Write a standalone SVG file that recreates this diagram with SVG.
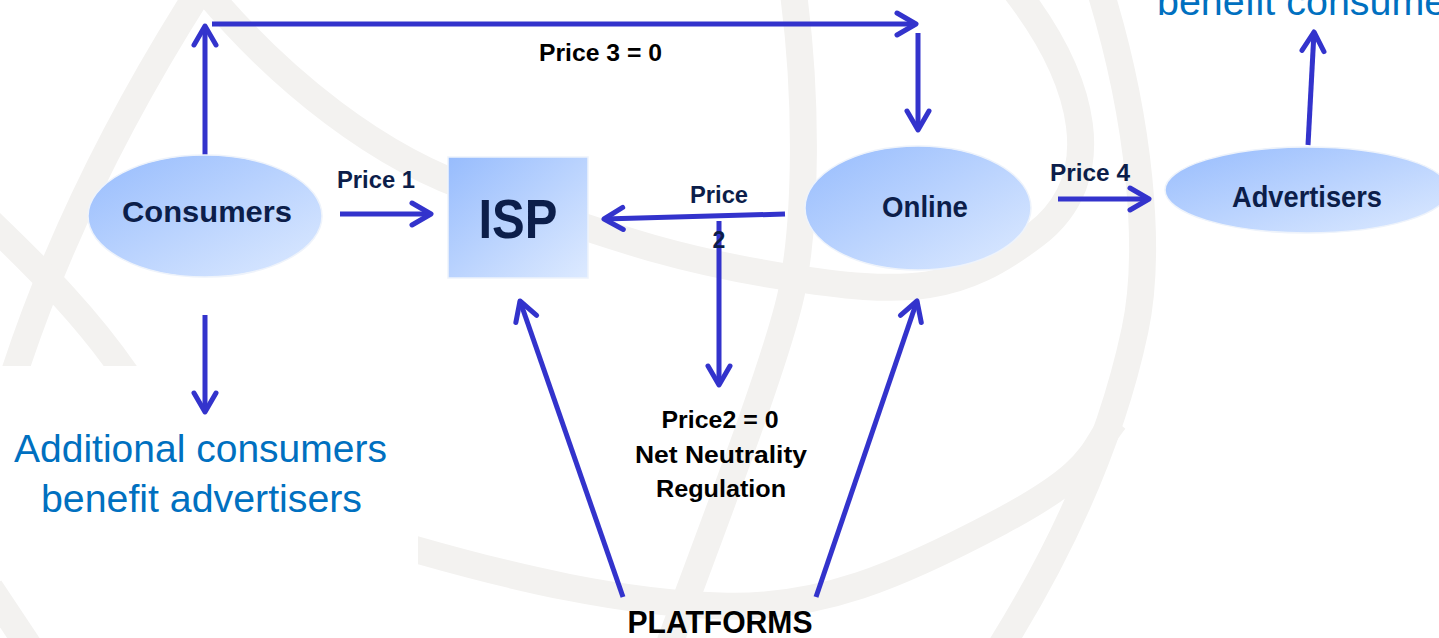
<svg xmlns="http://www.w3.org/2000/svg" width="1439" height="638" viewBox="0 0 1439 638">
  <defs>
    <linearGradient id="nodeGrad" x1="0" y1="0" x2="1" y2="1">
      <stop offset="0" stop-color="#97BCFD"/>
      <stop offset="1" stop-color="#DDEAFF"/>
    </linearGradient>
    <marker id="arrow" markerUnits="userSpaceOnUse" viewBox="-24 -16 28 32" refX="0" refY="0" markerWidth="28" markerHeight="32" orient="auto">
      <path d="M-19,-11 L0,0 L-19,11" fill="none" stroke="#3333CC" stroke-width="5" stroke-linecap="round" stroke-linejoin="round"/>
    </marker>
    <clipPath id="leftClip">
      <rect x="0" y="0" width="300" height="366"/>
    </clipPath>
    <clipPath id="bottomClip">
      <rect x="418" y="0" width="1021" height="638"/>
    </clipPath>
    <style>
      .wm { fill: none; stroke: #F3F2F0; stroke-width: 27; }
      .node { fill: url(#nodeGrad); stroke: #EEF3FB; stroke-width: 1.5; }
      .lbl { font-family: "Liberation Sans", Arial, sans-serif; font-weight: bold; fill: #0C1E4A; }
      .blk { font-family: "Liberation Sans", Arial, sans-serif; font-weight: bold; fill: #000000; }
      .blue { font-family: "Liberation Sans", Arial, sans-serif; fill: #0070C0; }
      .conn { fill: none; stroke: #3333CC; stroke-width: 5; marker-end: url(#arrow); }
    </style>
  </defs>

  <rect x="0" y="0" width="1439" height="638" fill="#FFFFFF"/>

  <g id="watermark">
    <g clip-path="url(#leftClip)">
      <path class="wm" d="M 200,-10 C 130,100 60,230 12,380"/>
      <path class="wm" d="M -10,222 C 40,270 90,320 130,380"/>
    </g>
    <path class="wm" d="M 205,-10 C 280,80 380,160 480,192 S 650,255 780,276 S 960,292 1035,235 S 1085,80 1015,-10"/>
    <path class="wm" d="M 1100,-10 C 1140,120 1152,250 1135,330 S 1080,520 1000,648"/>
    <path class="wm" d="M 793,-10 C 808,100 806,220 792,290 S 700,560 668,648"/>
    <g clip-path="url(#bottomClip)">
      <path class="wm" d="M 400,545 C 520,580 620,602 720,606 S 900,575 1000,522 S 1090,450 1115,420"/>
    </g>
    <path class="wm" d="M -10,588 L 30,648"/>
  </g>

  <g id="connectors">
    <line class="conn" x1="205" y1="155" x2="205" y2="26"/>
    <line class="conn" x1="212" y1="24" x2="916" y2="24"/>
    <line class="conn" x1="918" y1="33" x2="918" y2="130"/>
    <line class="conn" x1="340" y1="214" x2="431" y2="214"/>
    <line class="conn" x1="785" y1="214" x2="604" y2="219"/>
    <line class="conn" x1="719" y1="221" x2="719" y2="385"/>
    <line class="conn" x1="205" y1="315" x2="205" y2="412"/>
    <line class="conn" x1="623" y1="597" x2="520" y2="301"/>
    <line class="conn" x1="816" y1="597" x2="917" y2="301"/>
    <line class="conn" x1="1058" y1="199" x2="1149" y2="199"/>
    <line class="conn" x1="1308" y1="145" x2="1314" y2="32"/>
  </g>

  <g id="node-consumers">
    <ellipse class="node" cx="205" cy="216" rx="117" ry="61"/>
    <text class="lbl" x="207" y="222" font-size="30" text-anchor="middle" textLength="170" lengthAdjust="spacingAndGlyphs">Consumers</text>
  </g>

  <g id="node-isp">
    <rect class="node" x="448" y="157" width="140" height="121"/>
    <text class="lbl" x="518" y="238" font-size="56" text-anchor="middle" textLength="79" lengthAdjust="spacingAndGlyphs">ISP</text>
  </g>

  <g id="node-online">
    <ellipse class="node" cx="918" cy="208" rx="113" ry="62"/>
    <text class="lbl" x="925" y="217" font-size="29" text-anchor="middle" textLength="86" lengthAdjust="spacingAndGlyphs">Online</text>
  </g>

  <g id="node-advertisers">
    <ellipse class="node" cx="1307" cy="190" rx="142" ry="43"/>
    <text class="lbl" x="1307" y="207" font-size="29" text-anchor="middle" textLength="150" lengthAdjust="spacingAndGlyphs">Advertisers</text>
  </g>

  <g id="node-platforms">
    <text class="blk" x="720" y="633" font-size="31" text-anchor="middle" textLength="185" lengthAdjust="spacingAndGlyphs">PLATFORMS</text>
  </g>

  <g id="labels">
    <text class="lbl" x="337" y="188" font-size="23" textLength="78" lengthAdjust="spacingAndGlyphs">Price 1</text>
    <text class="blk" x="539" y="61" font-size="24" textLength="123" lengthAdjust="spacingAndGlyphs">Price 3 = 0</text>
    <text class="lbl" x="1050" y="181" font-size="23" textLength="80" lengthAdjust="spacingAndGlyphs">Price 4</text>
    <text class="lbl" x="719" y="203" font-size="23" text-anchor="middle" textLength="58" lengthAdjust="spacingAndGlyphs">Price</text>
    <text class="lbl" x="719" y="248" font-size="23" text-anchor="middle">2</text>
    <text class="blk" x="720" y="428" font-size="24" text-anchor="middle" textLength="117" lengthAdjust="spacingAndGlyphs">Price2 = 0</text>
    <text class="blk" x="721" y="463" font-size="24" text-anchor="middle" textLength="172" lengthAdjust="spacingAndGlyphs">Net Neutrality</text>
    <text class="blk" x="721" y="497" font-size="24" text-anchor="middle" textLength="130" lengthAdjust="spacingAndGlyphs">Regulation</text>
  </g>

  <g id="notes">
    <text class="blue" x="14" y="462" font-size="38" textLength="373" lengthAdjust="spacingAndGlyphs">Additional consumers</text>
    <text class="blue" x="41" y="512" font-size="38" textLength="321" lengthAdjust="spacingAndGlyphs">benefit advertisers</text>
    <text class="blue" x="1157" y="15" font-size="38" textLength="322" lengthAdjust="spacingAndGlyphs">benefit consumers</text>
  </g>
</svg>
